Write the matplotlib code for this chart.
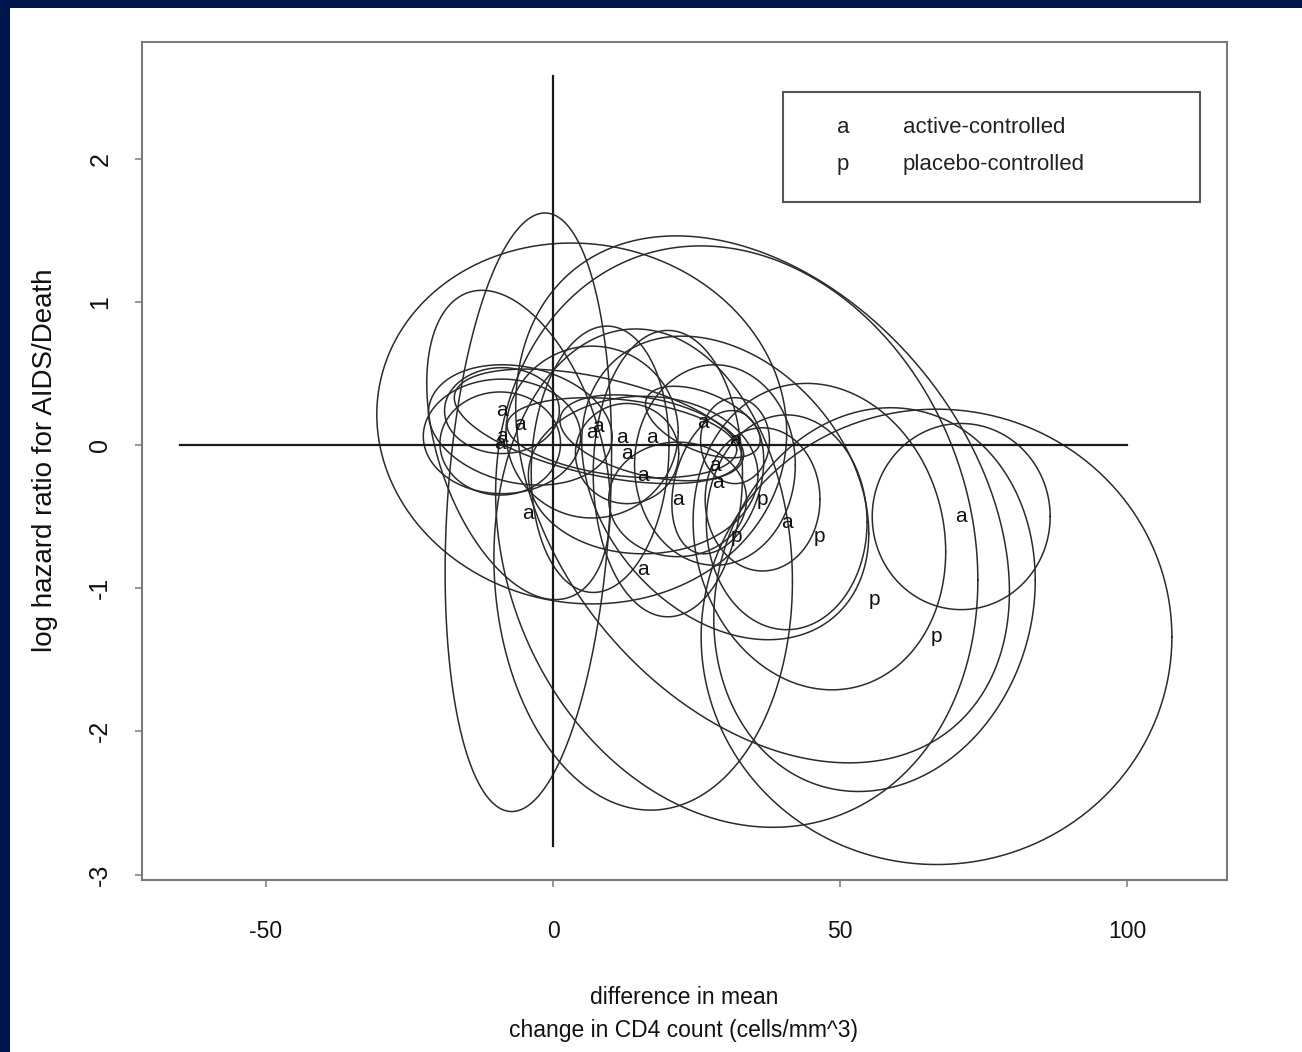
import numpy as np
import matplotlib
matplotlib.use("Agg")
import matplotlib.pyplot as plt
from matplotlib.patches import Rectangle

plt.rcParams['font.family'] = ['Liberation Sans', 'DejaVu Sans']
plt.rcParams['axes.unicode_minus'] = False

# ---------------- data ----------------
# study estimates (letter positions)
active_x = [-8.9, -5.7, -8.9, -9.2, -4.3, 7.8, 6.8, 12.0, 12.9, 17.2, 15.7, 21.7,
            26.1, 28.7, 28.2, 40.7, 15.7, 71.1, 31.7]
active_y = [0.24, 0.14, 0.06, 0.01, -0.48, 0.13, 0.09, 0.05, -0.06, 0.05, -0.21, -0.38,
            0.16, -0.26, -0.14, -0.54, -0.87, -0.50, 0.03]
placebo_x = [36.5, 32.0, 46.4, 56.0, 66.8]
placebo_y = [-0.38, -0.64, -0.64, -1.08, -1.34]

# confidence ellipses: centre, half-width (x), half-height (y), correlation
ell_cx = [-4.3, 5.0, -6.0, 36.5, 66.8, 56.0, 71.1, 15.7, 32.0, 46.4, 30.0, 8.2,
          -8.9, -5.7, -8.9, -9.2, 7.8, 6.8, 12.0, 12.9, 17.2, 15.7, 21.7, 26.1,
          28.7, 28.2, 40.7, 31.7, 36.5, 20.0]
ell_cy = [-0.47, 0.15, 0.00, -0.38, -1.34, -1.08, -0.50, -0.87, -0.64, -0.64, -0.30, -0.10,
          0.24, 0.14, 0.06, 0.01, 0.13, 0.09, 0.05, -0.06, 0.05, -0.21, -0.38, 0.16,
          -0.26, -0.14, -0.54, 0.03, -0.38, -0.20]
ell_wx = [14.5, 35.7, 16.0, 43.0, 41.0, 28.0, 15.5, 26.0, 42.0, 22.0, 25.0, 12.0,
          10.0, 16.0, 13.7, 10.5, 25.0, 15.0, 20.0, 9.0, 16.0, 20.0, 12.0, 10.0,
          8.0, 14.0, 14.0, 6.0, 10.0, 13.0]
ell_wy = [2.09, 1.26, 1.08, 1.84, 1.59, 1.34, 0.65, 1.68, 2.03, 1.07, 1.06, 0.93,
          0.30, 0.42, 0.40, 0.36, 0.40, 0.60, 0.28, 0.35, 0.30, 0.55, 0.40, 0.25,
          0.50, 0.70, 0.75, 0.30, 0.50, 1.00]
ell_rho = [0.2, -0.05, -0.4, -0.35, 0.0, 0.1, 0.0, -0.05, -0.15, -0.1, -0.3, 0.1,
           0.0, -0.2, 0.0, 0.0, -0.5, 0.0, -0.3, 0.0, -0.4, 0.0, 0.0, -0.5,
           0.3, 0.0, 0.0, 0.0, 0.0, 0.0]

x_ticks = [-50, 0, 50, 100]
y_ticks = [-3, -2, -1, 0, 1, 2]
legend_symbols = ['a', 'p']
legend_labels = ['active-controlled', 'placebo-controlled']

# ---------------- figure ----------------
W, H = 1302, 1052
fig = plt.figure(figsize=(W / 100, H / 100), dpi=100)
fig.patch.set_facecolor('#00174d')
bg = fig.add_axes([10 / W, 0, 1 - 10 / W, 1 - 8 / H], zorder=-10)
bg.set_facecolor('white')
bg.set_xticks([])
bg.set_yticks([])
for sp in bg.spines.values():
    sp.set_visible(False)

ax = fig.add_axes([142 / W, 1 - 880 / H, (1227 - 142) / W, (880 - 42) / H], zorder=1)
ax.set_facecolor('white')
ax.set_xlim(-71.6, 117.4)
ax.set_ylim(-3.038, 2.814)

ink = '#2b2b2b'
t = np.linspace(0, 2 * np.pi, 500)
for cx, cy, wx, wy, r in zip(ell_cx, ell_cy, ell_wx, ell_wy, ell_rho):
    xs = cx + wx * np.cos(t)
    ys = cy + wy * (r * np.cos(t) + np.sqrt(1 - r * r) * np.sin(t))
    ax.plot(xs, ys, color=ink, lw=1.1, solid_capstyle='round')

# reference lines
ax.plot([-65, 100], [0, 0], color='#1a1a1a', lw=1.6)
ax.plot([0, 0], [-2.8, 2.58], color='#1a1a1a', lw=1.6)

for x, y in zip(active_x, active_y):
    ax.text(x, y, 'a', ha='center', va='center', fontsize=15, color='#111111')
for x, y in zip(placebo_x, placebo_y):
    ax.text(x, y, 'p', ha='center', va='center', fontsize=15, color='#111111')

# legend box
ax.add_patch(Rectangle((0.5908, 0.809), 0.9751 - 0.5908, 0.9403 - 0.809, transform=ax.transAxes,
                       facecolor='white', edgecolor='#555555', lw=1.5, zorder=5))
for i, (s, lab) in enumerate(zip(legend_symbols, legend_labels)):
    yy = 0.8975 - i * 0.0435
    ax.text(0.646, yy, s, transform=ax.transAxes, ha='center', va='center',
            fontsize=16, color='#222222', zorder=6)
    ax.text(0.7014, yy, lab, transform=ax.transAxes, ha='left', va='center',
            fontsize=16, color='#222222', zorder=6)

# axes styling
for sp in ax.spines.values():
    sp.set_color('#7a7a7a')
    sp.set_linewidth(1.5)
ax.set_xticks(x_ticks)
ax.set_yticks(y_ticks)
ax.set_xticklabels([str(v) for v in x_ticks])
ax.set_yticklabels([str(v) for v in y_ticks], rotation=90, va='center', ha='center')
ax.tick_params(axis='both', direction='out', length=5, width=1.1, color='#7a7a7a',
               labelcolor='#111111')
ax.tick_params(axis='x', labelsize=16.5, pad=24)
ax.tick_params(axis='y', labelsize=18, pad=25)

fig.text(684 / W, 1 - 1014 / H, 'difference in mean\nchange in CD4 count (cells/mm^3)',
         ha='center', va='center', multialignment='center', fontsize=16.5,
         linespacing=1.5, color='#111111')
fig.text(45 / W, 1 - 460 / H, 'log hazard ratio for AIDS/Death', rotation=90,
         ha='center', va='center', fontsize=20, color='#111111')

fig.savefig('out.png', dpi=100, facecolor=fig.get_facecolor())
